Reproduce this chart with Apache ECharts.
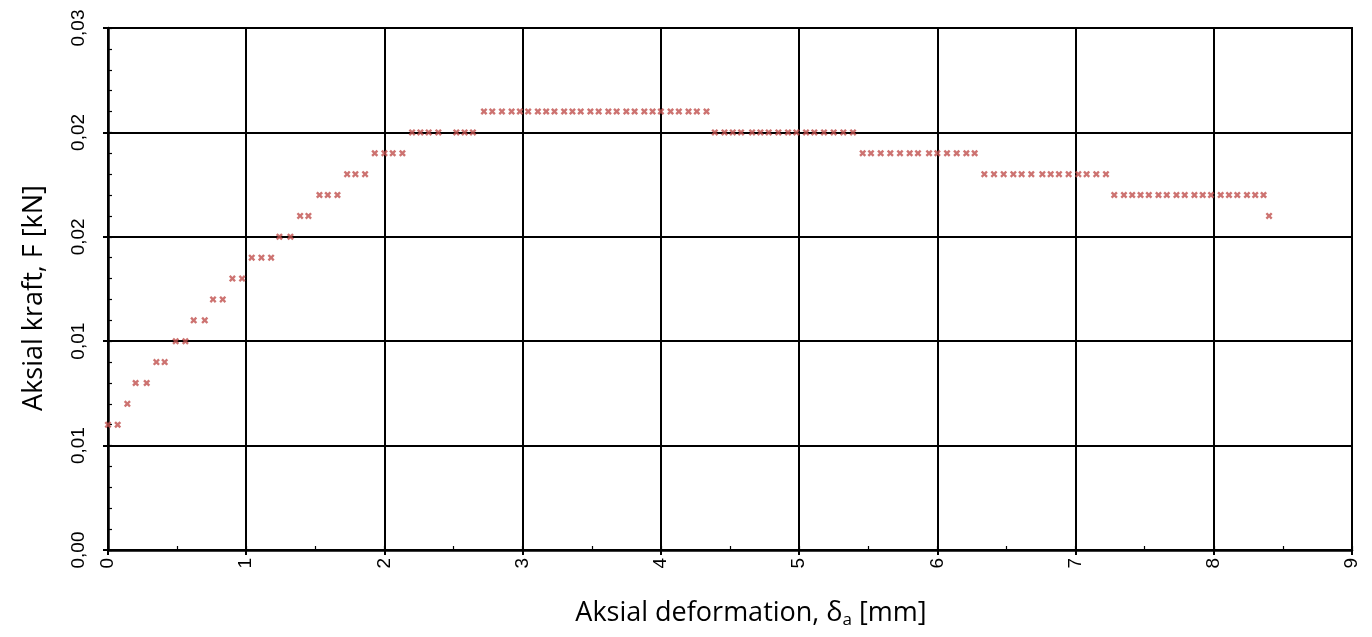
<!DOCTYPE html>
<html>
<head>
<meta charset="utf-8">
<title>Aksial kraft mod aksial deformation</title>
<script src="https://cdn.jsdelivr.net/npm/echarts@6/dist/echarts.min.js"></script>
<style>
  html, body { margin: 0; padding: 0; background: #fff; }
  #chart { width: 1372px; height: 637px; }
</style>
</head>
<body>
<div id="chart"></div>
<script>
// Axial deformation [mm] of each recorded sample
const deformation = [
  0.00, 0.07,
  0.14,
  0.20, 0.28,
  0.35, 0.41,
  0.49, 0.56,
  0.62, 0.70,
  0.76, 0.83,
  0.90, 0.97,
  1.04, 1.11, 1.18,
  1.24, 1.32,
  1.39, 1.45,
  1.53, 1.59, 1.66,
  1.73, 1.79, 1.86,
  1.93, 2.00, 2.06, 2.13,
  2.20, 2.26, 2.32, 2.39, 2.52, 2.58, 2.64,
  2.72, 2.78, 2.85, 2.92, 2.98, 3.04, 3.11, 3.17, 3.23, 3.30, 3.36, 3.42, 3.49,
  3.55, 3.62, 3.68, 3.75, 3.81, 3.88, 3.94, 4.00, 4.07, 4.13, 4.20, 4.26, 4.33,
  4.39, 4.46, 4.52, 4.58, 4.66, 4.72, 4.78, 4.85, 4.92, 4.98, 5.05, 5.11, 5.18,
  5.25, 5.32, 5.39,
  5.46, 5.52, 5.59, 5.66, 5.73, 5.80, 5.86, 5.94, 6.00, 6.07, 6.14, 6.21, 6.27,
  6.34, 6.41, 6.48, 6.55, 6.61, 6.68, 6.76, 6.82, 6.88, 6.95, 7.02, 7.08, 7.15, 7.22,
  7.28, 7.35, 7.41, 7.47, 7.53, 7.60, 7.66, 7.73, 7.79, 7.86, 7.92, 7.98, 8.05,
  8.11, 8.17, 8.24, 8.30, 8.36,
  8.40
];

// Axial force [kN] for the same samples
const force = [
  0.006, 0.006,
  0.007,
  0.008, 0.008,
  0.009, 0.009,
  0.010, 0.010,
  0.011, 0.011,
  0.012, 0.012,
  0.013, 0.013,
  0.014, 0.014, 0.014,
  0.015, 0.015,
  0.016, 0.016,
  0.017, 0.017, 0.017,
  0.018, 0.018, 0.018,
  0.019, 0.019, 0.019, 0.019,
  0.020, 0.020, 0.020, 0.020, 0.020, 0.020, 0.020,
  0.021, 0.021, 0.021, 0.021, 0.021, 0.021, 0.021, 0.021, 0.021, 0.021, 0.021, 0.021, 0.021,
  0.021, 0.021, 0.021, 0.021, 0.021, 0.021, 0.021, 0.021, 0.021, 0.021, 0.021, 0.021, 0.021,
  0.020, 0.020, 0.020, 0.020, 0.020, 0.020, 0.020, 0.020, 0.020, 0.020, 0.020, 0.020, 0.020,
  0.020, 0.020, 0.020,
  0.019, 0.019, 0.019, 0.019, 0.019, 0.019, 0.019, 0.019, 0.019, 0.019, 0.019, 0.019, 0.019,
  0.018, 0.018, 0.018, 0.018, 0.018, 0.018, 0.018, 0.018, 0.018, 0.018, 0.018, 0.018, 0.018, 0.018,
  0.017, 0.017, 0.017, 0.017, 0.017, 0.017, 0.017, 0.017, 0.017, 0.017, 0.017, 0.017, 0.017,
  0.017, 0.017, 0.017, 0.017, 0.017,
  0.016
];

// Force axis tick labels (two decimals, comma separator), one per 0.005 kN
const forceTickLabels = ['0,00', '0,01', '0,01', '0,02', '0,02', '0,03'];
const forceTickStep = 0.005;
const forceMinorStep = 0.001;

// Deformation axis tick labels, one per millimetre
const deformationTickLabels = ['0', '1', '2', '3', '4', '5', '6', '7', '8', '9'];
const deformationMinorStep = 0.5;

const points = deformation.map((d, i) => [d, force[i]]);

// Filled, heavy "x" cross used as the point marker
const crossPath = 'path://M0,2.4 L2.4,0 L5,2.6 L7.6,0 L10,2.4 L7.4,5 L10,7.6 L7.6,10 L5,7.4 L2.4,10 L0,7.6 L2.6,5 Z';

const tickFont = {
  fontFamily: 'Liberation Sans, Arial, sans-serif',
  fontSize: 19,
  color: '#000'
};
const titleFont = 'Open Sans, sans-serif';

// Ticks-only axis: short inward marks between the labelled ticks
function minorTickAxis(min, max, step, position) {
  return {
    type: 'value',
    min: min,
    max: max,
    interval: step,
    position: position,
    axisLine: { show: false },
    axisTick: { show: true, inside: true, length: 4, lineStyle: { color: '#000', width: 1.2 } },
    axisLabel: { show: false },
    splitLine: { show: false }
  };
}

const chart = echarts.init(document.getElementById('chart'), null, { renderer: 'canvas' });

chart.setOption({
  animation: false,
  backgroundColor: '#fff',
  grid: {
    left: 108,
    right: 20,
    top: 28,
    bottom: 87,
    show: true,
    borderColor: '#000',
    borderWidth: 2,
    containLabel: false
  },
  xAxis: [{
    type: 'value',
    min: 0,
    max: 9,
    interval: 1,
    position: 'bottom',
    name: '{n|Aksial deformation, δ}{s|a}{n| [mm]}',
    nameLocation: 'middle',
    nameGap: 48,
    nameTextStyle: {
      padding: [0, 0, 0, 42],
      rich: {
        n: { fontFamily: titleFont, fontSize: 27, color: '#000' },
        s: { fontFamily: titleFont, fontSize: 17, color: '#000', verticalAlign: 'bottom', padding: [14, 0, 0, 0] }
      }
    },
    axisLine: { show: true, onZero: false, lineStyle: { color: '#000', width: 2.5 } },
    axisTick: { show: true, length: 5, lineStyle: { color: '#000', width: 2 } },
    splitLine: { show: true, lineStyle: { color: '#000', width: 2 } },
    axisLabel: Object.assign({
      rotate: 90,
      margin: 8,
      formatter: v => deformationTickLabels[Math.round(v)]
    }, tickFont),
    z: 3
  }, minorTickAxis(0, 9, deformationMinorStep, 'bottom')],
  yAxis: [{
    type: 'value',
    min: 0,
    max: 0.025,
    interval: forceTickStep,
    position: 'left',
    name: 'Aksial kraft, F [kN]',
    nameLocation: 'middle',
    nameGap: 60,
    nameRotate: 90,
    nameTextStyle: { fontFamily: titleFont, fontSize: 27, color: '#000', padding: [0, 18, 0, 0] },
    axisLine: { show: true, onZero: false, lineStyle: { color: '#000', width: 2.5 } },
    axisTick: { show: true, length: 5, lineStyle: { color: '#000', width: 2 } },
    splitLine: { show: true, lineStyle: { color: '#000', width: 2 } },
    axisLabel: Object.assign({
      rotate: 90,
      margin: 20,
      formatter: v => forceTickLabels[Math.round(v / forceTickStep)]
    }, tickFont),
    z: 3
  }, minorTickAxis(0, 0.025, forceMinorStep, 'left')],
  series: [{
    type: 'scatter',
    xAxisIndex: 0,
    yAxisIndex: 0,
    data: points,
    symbol: crossPath,
    symbolSize: 7,
    itemStyle: { color: '#C0504D' },
    clip: false,
    z: 5
  }]
});
</script>
</body>
</html>
